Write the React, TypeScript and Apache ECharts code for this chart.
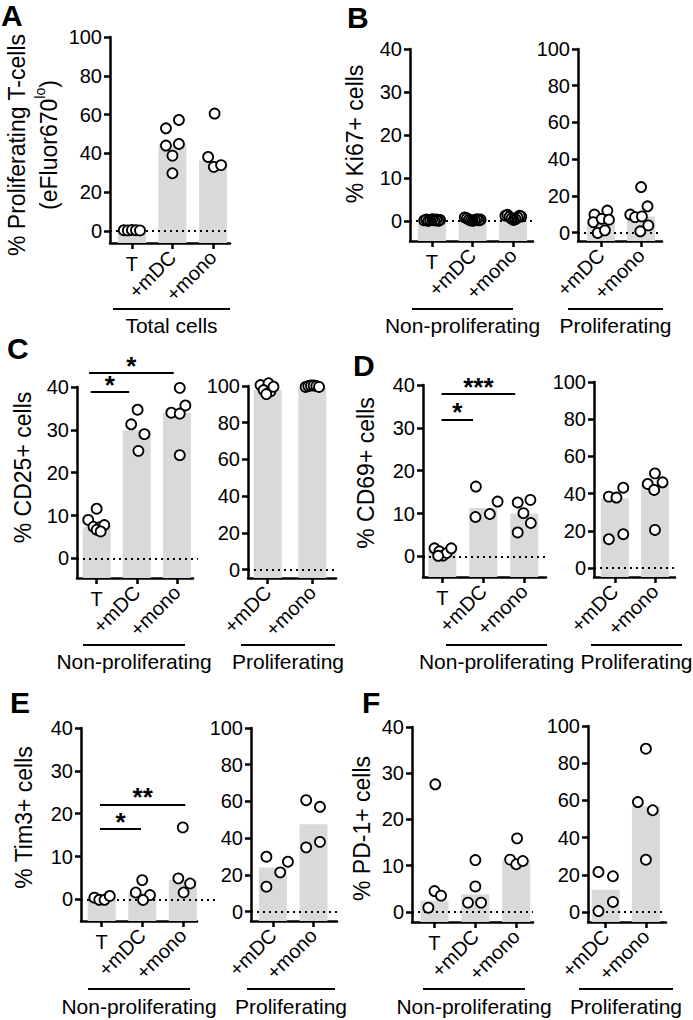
import React, { useEffect, useRef } from 'react';
import * as echarts from 'echarts';

const FONT = '"Liberation Sans", Arial, Helvetica, sans-serif';
const BAR_COLOR = '#d9d9d9';

// ---------- categories & ticks ----------
const catsLeft = ['T', '+mDC', '+mono'];
const catsRight = ['+mDC', '+mono'];
const ticks40 = [0, 10, 20, 30, 40];
const ticks100 = [0, 20, 40, 60, 80, 100];

// ---------- Panel A : % proliferating T-cells ----------
const aBars = [0.3, 44.7, 36.2];
const aVals = [[0.3, 0.2, 0.4, 0.3, 0.2], [52.9, 57.2, 44.0, 44.8, 38.8, 29.7], [60.5, 38.1, 33.0, 33.9]];
const aJit = [[-0.2, -0.1, 0, 0.1, 0.2], [-0.16, 0.16, -0.16, 0.16, 0, 0], [0.04, -0.12, 0.02, 0.2]];

// ---------- Panel B : Ki67 ----------
const bLeftBars = [0.2, 0.3, 0.6];
const bLeftVals = [
  [0.1, 0.3, 0, 0.2, 0.4, 0.1, 0.3, 0, 0.2],
  [0.8, 0.6, 0.3, 0.1, 0, 0.2, 0.4, 0.1, 0.3],
  [1.2, 1.4, 0.9, 0.5, 0.2, 0.4, 0.8, 1.2, 1.0],
];
const bLeftJit = [
  [-0.19, -0.14, -0.09, -0.04, 0.01, 0.06, 0.11, 0.16, 0.2],
  [-0.19, -0.14, -0.09, -0.04, 0.01, 0.06, 0.11, 0.16, 0.2],
  [-0.19, -0.14, -0.09, -0.04, 0.01, 0.06, 0.11, 0.16, 0.2],
];
const bRightBars = [5.7, 8.7];
const bRightVals = [[9.8, 12.0, 5.7, 7.5, 7.0, -0.2, 1.2], [24.8, 14.3, 9.8, 8.4, 8.8, 3.9, 0.7]];
const bRightJit = [[-0.16, 0.16, -0.19, 0.02, 0.2, -0.08, 0.1], [0, 0.16, -0.27, -0.15, 0.02, 0.18, -0.02]];

// ---------- Panel C : CD25 ----------
const cLeftBars = [7.3, 29.9, 34.0];
const cLeftVals = [[9.0, 11.6, 7.4, 7.3, 7.8, 6.7, 6.3], [31.3, 34.7, 29.0, 25.1], [39.8, 35.7, 34.0, 33.8, 24.1]];
const cLeftJit = [[-0.21, 0, -0.08, 0.08, 0.19, 0, 0.1], [-0.14, 0.02, 0.19, 0.04], [0.07, 0.21, -0.14, 0.07, 0.07]];
const cRightBars = [97.8, 99.3];
const cRightVals = [[100.5, 101.5, 97.8, 97.0, 95.6, 99.6], [99.5, 100.0, 100.3, 100.3, 100.0, 99.5]];
const cRightJit = [[-0.16, 0.02, -0.09, 0.06, -0.03, 0.13], [-0.15, -0.09, -0.03, 0.03, 0.09, 0.15]];
const cSigSpans = [[-0.15, 0.81], [-0.19, 1.92]];
const cSigLevels = [38.8, 43.3];
const cSigLabels = ['*', '*'];

// ---------- Panel D : CD69 ----------
const dLeftBars = [1.2, 11.3, 10.0];
const dLeftVals = [[1.9, 1.2, 0.2, 0.8, 1.9, 0.15], [16.3, 9.2, 9.9, 12.8], [12.6, 13.2, 10.1, 7.8, 5.6]];
const dLeftJit = [[-0.19, -0.07, 0.02, 0.11, 0.22, -0.1], [-0.18, -0.19, 0.16, 0.35], [-0.16, 0.15, -0.02, 0.16, -0.16]];
const dRightBars = [37.5, 45.0];
const dRightVals = [[38.4, 37.9, 43.2, 15.5, 18.2], [45.2, 50.9, 46.1, 42.0, 20.5]];
const dRightJit = [[-0.15, 0.04, 0.21, -0.15, 0.21], [-0.18, 0, 0.19, -0.02, 0]];
const dSigSpans = [[-0.02, 0.75], [-0.02, 1.78]];
const dSigLevels = [32.0, 37.9];
const dSigLabels = ['*', '***'];

// ---------- Panel E : Tim3 ----------
const eLeftBars = [0.5, 1.4, 4.5];
const eLeftVals = [[0.4, -0.1, -0.1, 0.8], [4.5, 1.6, 1.0, -0.15], [16.8, 4.9, 3.7, 1.6]];
const eLeftJit = [[-0.18, -0.06, 0.07, 0.2], [0, -0.16, 0.19, 0.02], [0, -0.11, 0.18, 0.02]];
const eRightBars = [24.1, 47.6];
const eRightVals = [[29.9, 13.6, 21.4, 27.2], [60.7, 57.1, 35.0, 38.0]];
const eRightJit = [[-0.16, -0.16, 0.18, 0.37], [-0.18, 0.16, -0.18, 0.16]];
const eSigSpans = [[-0.04, 0.97], [-0.04, 2.06]];
const eSigLevels = [16.4, 22.2];
const eSigLabels = ['*', '**'];

// ---------- Panel F : PD-1 ----------
const fLeftBars = [2.4, 3.8, 11.3];
const fLeftVals = [[27.6, 4.5, 3.5, 0.9], [11.2, 5.5, 2.0, 2.0], [15.9, 11.3, 10.3, 11.0]];
const fLeftJit = [[0.02, 0, 0.16, -0.15], [0, 0, -0.18, 0.14], [0.02, -0.15, 0, 0.16]];
const fRightBars = [12.0, 57.0];
const fRightVals = [[21.5, 19.2, 0.5, 5.4], [87.8, 59.1, 54.7, 28.1]];
const fRightJit = [[-0.18, 0.18, -0.18, 0.18], [0, -0.2, 0.17, 0]];

// ---------- texts ----------
const titleA = '{a|% Proliferating T-cells}\n{a|(eFluor670}{s|lo}{a|)}';
const panelLetters = ['A', 'B', 'C', 'D', 'E', 'F'];
const groupTexts = ['Total cells', 'Non-proliferating', 'Proliferating'];

// ---------- panel definitions (data references) ----------
const panels = [
  { cats: catsLeft, bars: aBars, vals: aVals, jit: aJit, ticks: ticks100, yMin: -6.3, yMax: 100, title: titleA },
  { cats: catsLeft, bars: bLeftBars, vals: bLeftVals, jit: bLeftJit, ticks: ticks40, yMin: -4.7, yMax: 40, title: '% Ki67+ cells' },
  { cats: catsRight, bars: bRightBars, vals: bRightVals, jit: bRightJit, ticks: ticks100, yMin: -4.6, yMax: 100 },
  { cats: catsLeft, bars: cLeftBars, vals: cLeftVals, jit: cLeftJit, ticks: ticks40, yMin: -4.56, yMax: 40, title: '% CD25+ cells', sig: [cSigSpans, cSigLevels, cSigLabels] },
  { cats: catsRight, bars: cRightBars, vals: cRightVals, jit: cRightJit, ticks: ticks100, yMin: -4.5, yMax: 100 },
  { cats: catsLeft, bars: dLeftBars, vals: dLeftVals, jit: dLeftJit, ticks: ticks40, yMin: -4.8, yMax: 40, title: '% CD69+ cells', sig: [dSigSpans, dSigLevels, dSigLabels] },
  { cats: catsRight, bars: dRightBars, vals: dRightVals, jit: dRightJit, ticks: ticks100, yMin: -4.8, yMax: 100 },
  { cats: catsLeft, bars: eLeftBars, vals: eLeftVals, jit: eLeftJit, ticks: ticks40, yMin: -5.05, yMax: 40, title: '% Tim3+ cells', sig: [eSigSpans, eSigLevels, eSigLabels] },
  { cats: catsRight, bars: eRightBars, vals: eRightVals, jit: eRightJit, ticks: ticks100, yMin: -5.1, yMax: 100 },
  { cats: catsLeft, bars: fLeftBars, vals: fLeftVals, jit: fLeftJit, ticks: ticks40, yMin: -2.2, yMax: 40, title: '% PD-1+ cells' },
  { cats: catsRight, bars: fRightBars, vals: fRightVals, jit: fRightJit, ticks: ticks100, yMin: -5.4, yMax: 100 },
];

// ---------- layout (pixels) ----------
const layout = [
  { left: 110, top: 37, right: 230, bottom: 243, xMin: -0.54, xMax: 2.42, zeroEnd: 2.42, nameGap: 28, namePad: [0, 10, 0, 0] },
  { left: 410, top: 49, right: 533, bottom: 241, xMin: -0.54, xMax: 2.49, zeroEnd: 2.49, nameGap: 39, namePad: [0, 0, 0, 22], hollow: true },
  { left: 578, top: 49, right: 662, bottom: 241, xMin: -0.57, xMax: 1.52, zeroEnd: 1.52 },
  { left: 77, top: 387, right: 193, bottom: 578, xMin: -0.49, xMax: 2.4, zeroEnd: 2.52, nameGap: 38, namePad: [0, 0, 0, 30] },
  { left: 248, top: 386, right: 336, bottom: 578, xMin: -0.44, xMax: 1.53, zeroEnd: 1.53 },
  { left: 423, top: 385, right: 546, bottom: 577, xMin: -0.47, xMax: 2.53, zeroEnd: 2.53, nameGap: 41, namePad: [0, 0, 0, 16] },
  { left: 594, top: 382, right: 675, bottom: 577, xMin: -0.52, xMax: 1.5, zeroEnd: 1.5 },
  { left: 81, top: 728, right: 197, bottom: 921, xMin: -0.51, xMax: 2.35, zeroEnd: 2.88, nameGap: 41, namePad: [0, 0, 0, 14] },
  { left: 251, top: 728, right: 337, bottom: 921, xMin: -0.54, xMax: 1.58, zeroEnd: 1.58 },
  { left: 412, top: 727, right: 533, bottom: 922, xMin: -0.55, xMax: 2.41, zeroEnd: 2.41, nameGap: 34, namePad: [0, 8, 0, 0] },
  { left: 588, top: 726, right: 666, bottom: 922, xMin: -0.44, xMax: 1.5, zeroEnd: 1.5 },
];

const letterPos = [
  [1, 0], [347, 2], [7, 333], [353, 350], [10, 687], [362, 687],
];

// group brackets: [x1, x2, lineY, textY, textIndex]
const brackets = [
  [113, 230, 309, 325, 0],
  [412, 513, 309, 325, 1],
  [568, 663, 309, 325, 2],
  [83, 185, 645, 661, 1],
  [241, 335, 645, 661, 2],
  [446, 547, 645, 661, 1],
  [591, 682, 645, 661, 2],
  [88, 190, 989, 1006, 1],
  [247, 335, 989, 1006, 2],
  [423, 525, 989, 1006, 1],
  [579, 673, 989, 1006, 2],
];

const EXTRA_TOP = 45;
const EXTRA_RIGHT = 30;

function buildOption() {
  const grid: any[] = [];
  const xAxis: any[] = [];
  const yAxis: any[] = [];
  const series: any[] = [];
  const axisLineStyle = { color: '#000', width: 2.5 };

  panels.forEach((p: any, k) => {
    const L: any = layout[k];
    grid.push({ left: L.left, top: L.top, width: L.right - L.left, height: L.bottom - L.top, containLabel: false, outerBoundsMode: 'none' });
    const idx = p.cats.map((_: string, i: number) => i);
    const tIdx = idx.filter((i: number) => p.cats[i] === 'T');
    const rIdx = idx.filter((i: number) => p.cats[i] !== 'T');
    const fmt = (v: number) => p.cats[Math.round(v)] ?? '';
    xAxis.push({
      type: 'value', gridIndex: k, position: 'bottom', min: L.xMin, max: L.xMax,
      axisLine: { show: true, onZero: false, lineStyle: axisLineStyle },
      axisTick: { show: true, customValues: idx, length: 6, lineStyle: axisLineStyle },
      axisLabel: { show: tIdx.length > 0, customValues: tIdx, formatter: fmt, fontSize: 20, color: '#000', fontFamily: FONT, margin: 11 },
      splitLine: { show: false },
    });
    xAxis.push({
      type: 'value', gridIndex: k, position: 'bottom', min: L.xMin, max: L.xMax,
      axisLine: { show: false, onZero: false },
      axisTick: { show: false },
      axisLabel: { show: true, customValues: rIdx, formatter: fmt, rotate: 45, fontSize: 20, color: '#000', fontFamily: FONT, margin: 11 },
      splitLine: { show: false },
    });
    const y: any = {
      type: 'value', gridIndex: k, min: p.yMin, max: p.yMax,
      axisLine: { show: true, onZero: false, lineStyle: axisLineStyle },
      axisTick: { show: true, customValues: p.ticks, length: 6, lineStyle: axisLineStyle },
      axisLabel: { customValues: p.ticks, fontSize: 20, color: '#000', fontFamily: FONT, margin: 8 },
      splitLine: { show: false },
    };
    if (p.title) {
      y.name = p.title;
      y.nameLocation = 'middle';
      y.nameGap = L.nameGap;
      y.nameTextStyle = {
        fontSize: 23, color: '#000', fontFamily: FONT, padding: L.namePad, lineHeight: 32,
        rich: {
          a: { fontSize: 23, color: '#000', fontFamily: FONT, lineHeight: 32 },
          s: { fontSize: 14, color: '#000', fontFamily: FONT, lineHeight: 14, verticalAlign: 'top' },
        },
      };
    }
    yAxis.push(y);

    const unit = (L.right - L.left) / (L.xMax - L.xMin);
    const hw = 14 / unit;
    const yMin = p.yMin;
    series.push({
      type: 'custom', xAxisIndex: 2 * k, yAxisIndex: k, z: 1, silent: true,
      data: p.bars.map((v: number, i: number) => [i, v]),
      renderItem: (params: any, api: any) => {
        const x = api.value(0);
        const v = api.value(1);
        const a = api.coord([x - hw, v]);
        const b = api.coord([x + hw, yMin]);
        return { type: 'rect', shape: { x: a[0], y: a[1], width: b[0] - a[0], height: b[1] - a[1] }, style: { fill: BAR_COLOR } };
      },
    });
    const pts: number[][] = [];
    p.vals.forEach((arr: number[], i: number) => arr.forEach((v: number, j: number) => pts.push([i + p.jit[i][j], v])));
    series.push({
      type: 'scatter', xAxisIndex: 2 * k, yAxisIndex: k, z: 3, clip: false, silent: true,
      symbol: 'circle', symbolSize: 10,
      itemStyle: { color: L.hollow ? 'rgba(0,0,0,0)' : '#fff', borderColor: '#000', borderWidth: 1.8, opacity: 1 },
      data: pts,
    });
  });

  // overlay grids (same scale, extended upward and rightward) for reference lines
  panels.forEach((p: any, k) => {
    const L: any = layout[k];
    const unit = (L.right - L.left) / (L.xMax - L.xMin);
    const pyu = (L.bottom - L.top) / (p.yMax - p.yMin);
    const gi = grid.length;
    grid.push({ left: L.left, top: L.top - EXTRA_TOP, width: L.right - L.left + EXTRA_RIGHT, height: L.bottom - L.top + EXTRA_TOP, containLabel: false, outerBoundsMode: 'none', show: false });
    const xi = xAxis.length;
    xAxis.push({ type: 'value', gridIndex: gi, show: false, min: L.xMin, max: L.xMax + EXTRA_RIGHT / unit, splitLine: { show: false } });
    const yi = yAxis.length;
    yAxis.push({ type: 'value', gridIndex: gi, show: false, min: p.yMin, max: p.yMax + EXTRA_TOP / pyu, splitLine: { show: false } });
    series.push({
      type: 'scatter', xAxisIndex: xi, yAxisIndex: yi, z: 2, silent: true, symbolSize: 0, data: [],
      markLine: {
        silent: true, symbol: ['none', 'none'], z: 2, animation: false,
        label: { show: false },
        lineStyle: { color: '#000', width: 2, type: [2, 4] },
        data: [[{ coord: [L.xMin, 0] }, { coord: [L.zeroEnd, 0] }]],
      },
    });
    if (p.sig) {
      const [spans, levels, labels] = p.sig;
      series.push({
        type: 'scatter', xAxisIndex: xi, yAxisIndex: yi, z: 4, silent: true, symbolSize: 0, data: [],
        markLine: {
          silent: true, symbol: ['none', 'none'], z: 4, animation: false,
          lineStyle: { color: '#000', width: 2, type: 'solid' },
          label: { show: true, position: 'middle', formatter: '{b}', fontSize: 26, fontWeight: 'bold', color: '#000', fontFamily: FONT, distance: -6 },
          emphasis: { disabled: true },
          data: spans.map((s: number[], i: number) => [
            { coord: [s[0], levels[i]], name: labels[i] },
            { coord: [s[1], levels[i]] },
          ]),
        },
      });
    }
  });

  const graphic: any[] = [];
  panelLetters.forEach((t, i) => {
    graphic.push({
      type: 'text', x: letterPos[i][0], y: letterPos[i][1], silent: true,
      style: { text: t, fontSize: 30, fontWeight: 'bold', fontFamily: FONT, fill: '#000', align: 'left', verticalAlign: 'top' },
    });
  });
  brackets.forEach((b) => {
    graphic.push({ type: 'line', silent: true, shape: { x1: b[0], y1: b[2], x2: b[1], y2: b[2] }, style: { stroke: '#000', lineWidth: 2 } });
    graphic.push({
      type: 'text', silent: true, x: (b[0] + b[1]) / 2, y: b[3],
      style: { text: groupTexts[b[4]], fontSize: 21, fontFamily: FONT, fill: '#000', align: 'center', verticalAlign: 'middle' },
    });
  });

  return {
    animation: false,
    backgroundColor: '#fff',
    textStyle: { fontFamily: FONT },
    grid, xAxis, yAxis, series, graphic,
  };
}

export default function App() {
  const ref = useRef<HTMLDivElement>(null);
  useEffect(() => {
    document.body.style.margin = '0';
    document.body.style.overflow = 'hidden';
    if (!ref.current) return;
    const chart = echarts.init(ref.current, undefined, { renderer: 'svg' });
    chart.setOption(buildOption() as any);
    return () => chart.dispose();
  }, []);
  return <div ref={ref} style={{ width: 693, height: 1020 }} />;
}
